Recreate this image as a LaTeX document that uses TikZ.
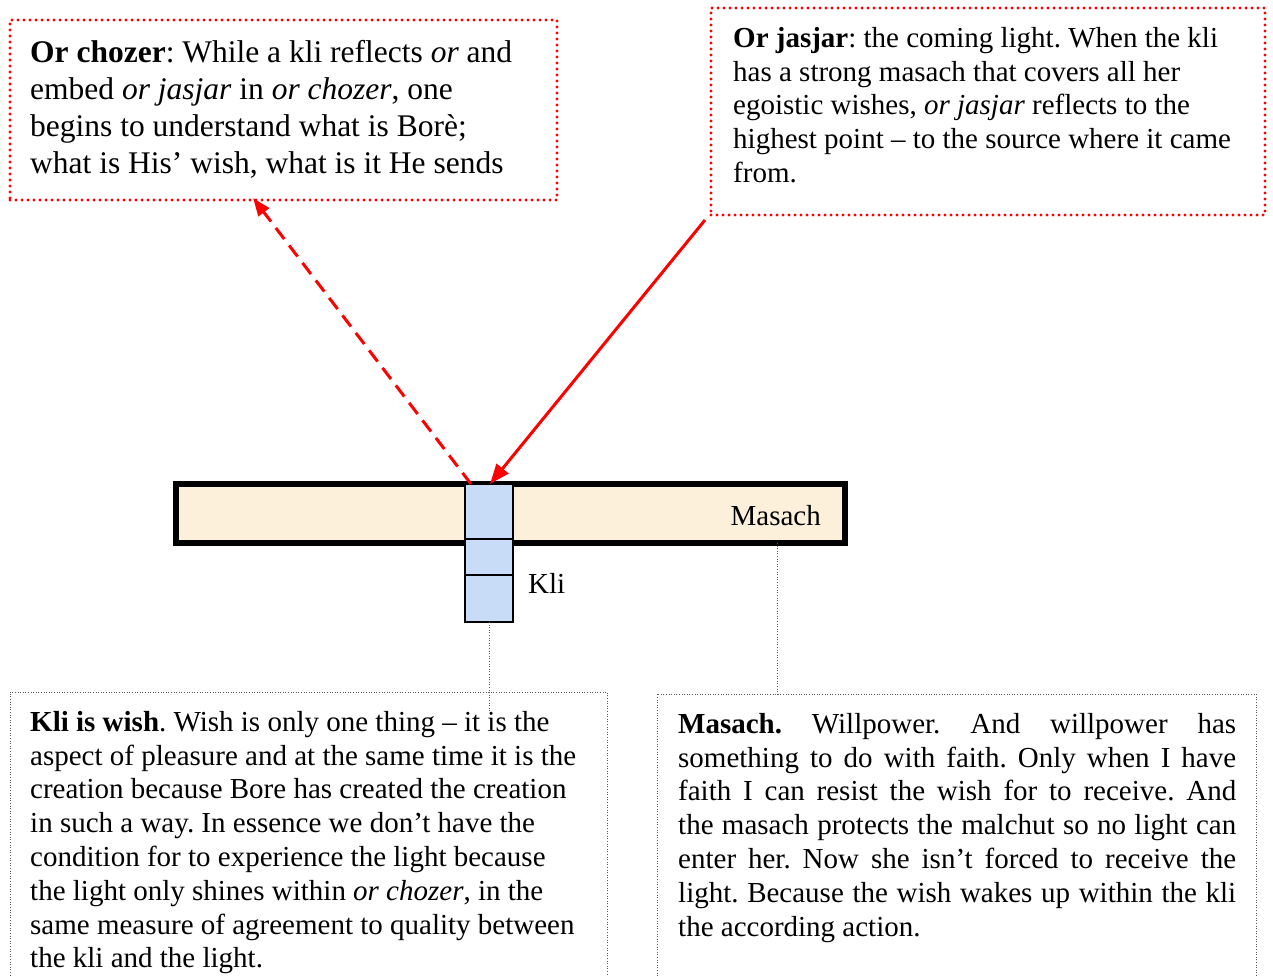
\documentclass[tikz,border=0pt]{standalone}
\usepackage{fontspec}
\setmainfont{Liberation Serif}
\usetikzlibrary{arrows.meta}

\definecolor{masachfill}{RGB}{252,240,218}
\definecolor{klifill}{RGB}{200,220,248}
\definecolor{notegray}{RGB}{90,90,90}

\tikzset{
  redbox/.style={draw=red, line width=3.2pt, dash pattern=on 0pt off 6pt, line cap=round, inner sep=0pt, outer sep=0pt},
  graybox/.style={draw=notegray, line width=1pt, dash pattern=on 1pt off 1.6pt, inner sep=0pt, outer sep=0pt},
  notetext/.style={anchor=north west, inner sep=0pt, align=left, font=\fontsize{29}{33.8}\selectfont},
  klicell/.style={draw=black, line width=2pt, fill=klifill, minimum width=48pt, inner sep=0pt, outer sep=0pt},
}

\begin{document}
\frenchspacing
\begin{tikzpicture}[x=1pt,y=1pt,yscale=-1,xscale=1]
\useasboundingbox (0,0) rectangle (1273,975);
\clip (0,0) rectangle (1273,975);

%Shape: Rectangle (or chozer note)
\node[redbox, anchor=north west, minimum width=547pt, minimum height=180pt] (chozerbox) at (10,20) {};
\node[notetext, font=\fontsize{31.5}{37}\selectfont] (chozertext) at (30,40) {\textbf{Or chozer}: While a kli reflects \textit{or} and\\ embed \textit{or jasjar} in \textit{or chozer}, one\\ begins to understand what is Borè;\\ what is His’ wish, what is it He sends};

%Shape: Rectangle (or jasjar note)
\node[redbox, anchor=north west, minimum width=554pt, minimum height=207pt] (jasjarbox) at (711,8) {};
\node[notetext] (jasjartext) at (733,27) {\textbf{Or jasjar}: the coming light. When the kli\\ has a strong masach that covers all her\\ egoistic wishes, \textit{or jasjar} reflects to the\\ highest point – to the source where it came\\ from.};

%Shape: Rectangle (masach bar)
\node[draw=black, line width=6pt, fill=masachfill, anchor=north west, minimum width=669pt, minimum height=59pt, inner sep=0pt, outer sep=0pt] (masach) at (176,484) {};
\node[anchor=east, inner sep=0pt, font=\fontsize{29}{33.8}\selectfont] (masachlabel) at (821,516) {Masach};

%Shape: Rectangle (kli cells)
\node[klicell, anchor=north west, minimum height=55pt] (kli1) at (465,484) {};
\node[klicell, anchor=north, minimum height=36pt] (kli2) at (kli1.south) {};
\node[klicell, anchor=north, minimum height=47pt] (kli3) at (kli2.south) {};
\node[anchor=west, inner sep=0pt, font=\fontsize{29}{33.8}\selectfont] (klilabel) at (528,583) {Kli};

%Shape: Rectangle (kli is wish note)
\node[graybox, anchor=north west, minimum width=597pt, minimum height=320pt] (wishbox) at (10,692) {};
\node[notetext] (wishtext) at (30,711) {\textbf{Kli is wish}. Wish is only one thing – it is the\\ aspect of pleasure and at the same time it is the\\ creation because Bore has created the creation\\ in such a way. In essence we don’t have the\\ condition for to experience the light because\\ the light only shines within \textit{or chozer}, in the\\ same measure of agreement to quality between\\ the kli and the light.};

%Shape: Rectangle (masach note)
\node[graybox, anchor=north west, minimum width=599pt, minimum height=320pt] (willbox) at (657,694) {};
\node[notetext, align=justify, text width=558pt] (willtext) at (678,713) {\textbf{Masach.} Willpower. And willpower has\linebreak something to do with faith. Only when I have\linebreak faith I can resist the wish for to receive. And\linebreak the masach protects the malchut so no light can\linebreak enter her. Now she isn’t forced to receive the\linebreak light. Because the wish wakes up within the kli\linebreak the according action.};

%Straight Lines (reflected light)
\draw[red, line width=3pt, dash pattern=on 14pt off 8pt, -{Triangle[length=18pt,width=13pt]}] ([xshift=6pt]kli1.north west) -- ([xshift=243pt,yshift=-2pt]chozerbox.south west);
%Straight Lines (coming light)
\draw[red, line width=3pt, -{Triangle[length=20pt,width=15pt]}] ([xshift=-6pt,yshift=5pt]jasjarbox.south west) -- ([xshift=1pt]kli1.north);

%Straight Lines (pointers to the notes)
\coordinate (wishtip) at ([yshift=20pt]wishbox.north -| kli3.south);
\draw[notegray, line width=1pt, dash pattern=on 1pt off 1.6pt] (kli3.south) -- (wishtip);
\draw[notegray, line width=1pt, dash pattern=on 1pt off 1.6pt] ([xshift=-68pt]masach.south east) -- ([xshift=-68pt]masach.south east |- willbox.north);

\end{tikzpicture}
\end{document}
